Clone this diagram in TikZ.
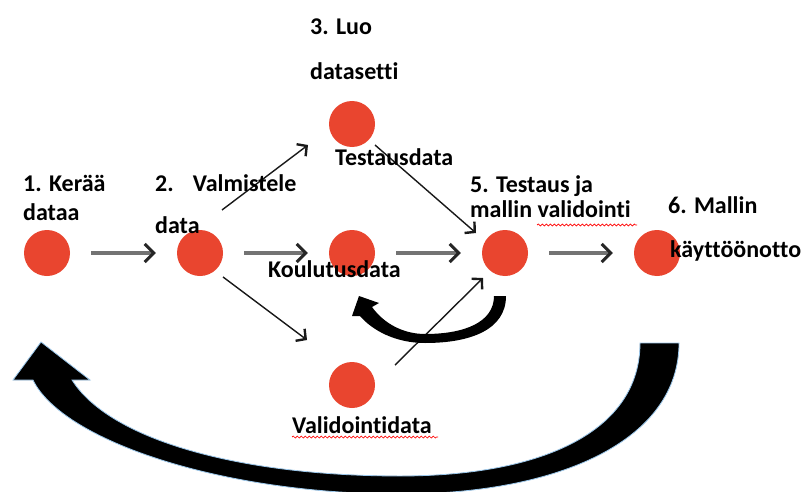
\documentclass[tikz,border=0pt]{standalone}
\usepackage{fontspec}
\setmainfont{Carlito}[Ligatures=NoCommon]
\usetikzlibrary{arrows.meta,decorations.pathmorphing}
\definecolor{dot}{HTML}{E9452F}
\definecolor{glow}{HTML}{9CC8EC}
\begin{document}
\begin{tikzpicture}[x=1pt,y=-1pt,
  dotn/.style={circle,fill=dot,minimum size=46pt,inner sep=0pt},
  lbl/.style={anchor=base west,inner sep=0pt,font=\fontsize{24}{28}\selectfont\bfseries},
  harrow/.style={line width=3.4pt,draw=black!55,shorten <=21pt,shorten >=21pt,
    -{Straight Barb[length=9pt,width=18pt,line width=3pt,color=black!85]}},
  tarrow/.style={line width=1.4pt,draw=black!90,
    -{Straight Barb[length=7pt,width=15pt,line width=2.4pt]}},
  bigarrow/.style={fill=black,draw=glow,line width=0.8pt},
  squiggle/.style={draw=red,line width=0.7pt,decorate,
    decoration={snake,amplitude=1pt,segment length=4pt}}]
\path[fill=white] (0,0) rectangle (805,492);
\useasboundingbox (0,0) rectangle (805,492);

% circles
\node[dotn] (c1) at (47,253) {};
\node[dotn] (c2) at (200,253) {};
\node[dotn] (c3) at (352,124) {};
\node[dotn] (c4) at (352,253) {};
\node[dotn] (c5) at (505,253) {};
\node[dotn] (c6) at (657,253) {};
\node[dotn] (c7) at (352,385) {};

% connector end points
\coordinate (a1) at (222,210); \coordinate (a2) at (308,145);
\coordinate (b1) at (223,277); \coordinate (b2) at (307,340);
\coordinate (e1) at (375,145); \coordinate (e2) at (476,233);
\coordinate (d1) at (395,365); \coordinate (d2) at (483,278);

% horizontal arrows
\draw[harrow] (c1) -- (c2);
\draw[harrow] (c2) -- (c4);
\draw[harrow] (c4) -- (c5);
\draw[harrow] (c5) -- (c6);

% diagonal arrows
\draw[tarrow] (a1) -- (a2);
\draw[tarrow] (b1) -- (b2);
\draw[tarrow] (e1) -- (e2);
\draw[tarrow] (d1) -- (d2);

% small curved arrow
\fill[black] (506,296) .. controls (506,330) and (470,343) .. (425,343)
  .. controls (395,343) and (372,330) .. (360,316)
  -- (352,316) -- (359,296) -- (379,303) -- (372,307)
  .. controls (385,325) and (405,334) .. (425,334)
  .. controls (465,334) and (494,322) .. (494,296) -- cycle;

% big curved arrow
\path[bigarrow] (679,343) .. controls (679,440) and (560,494) .. (400,494)
  .. controls (220,494) and (62,440) .. (33,380)
  -- (13,380) -- (41,342) -- (90,380) -- (72,380)
  .. controls (110,440) and (240,476) .. (400,476)
  .. controls (545,476) and (640,430) .. (640,343) -- cycle;

% labels
\node[lbl] (t1a) at (23,191) {1. Kerää};
\node[lbl] (t1b) at (23,220) {dataa};
\node[lbl] (t2a) at (155,191) {2.\hspace{0.8em}Valmistele};
\node[lbl] (t2b) at (155,233) {data};
\node[lbl] (t3a) at (310,35) {3. Luo};
\node[lbl] (t3b) at (310,80) {datasetti};
\node[lbl] (t3c) at (335,165) {Testausdata};
\node[lbl] (t4) at (268,277) {Koulutusdata};
\node[lbl] (t5a) at (470,192) {5. Testaus ja};
\node[lbl] (t5b) at (470,217) {mallin validointi};
\node[lbl] (t6a) at (668,213) {6. Mallin};
\node[lbl] (t6b) at (670,257) {käyttöönotto};
\node[lbl] (t7) at (292,433) {Validointidata};

% spell-check underlines
\draw[squiggle] (537,225) -- (637,225);
\draw[squiggle] (292,437) -- (438,437);
\end{tikzpicture}
\end{document}
